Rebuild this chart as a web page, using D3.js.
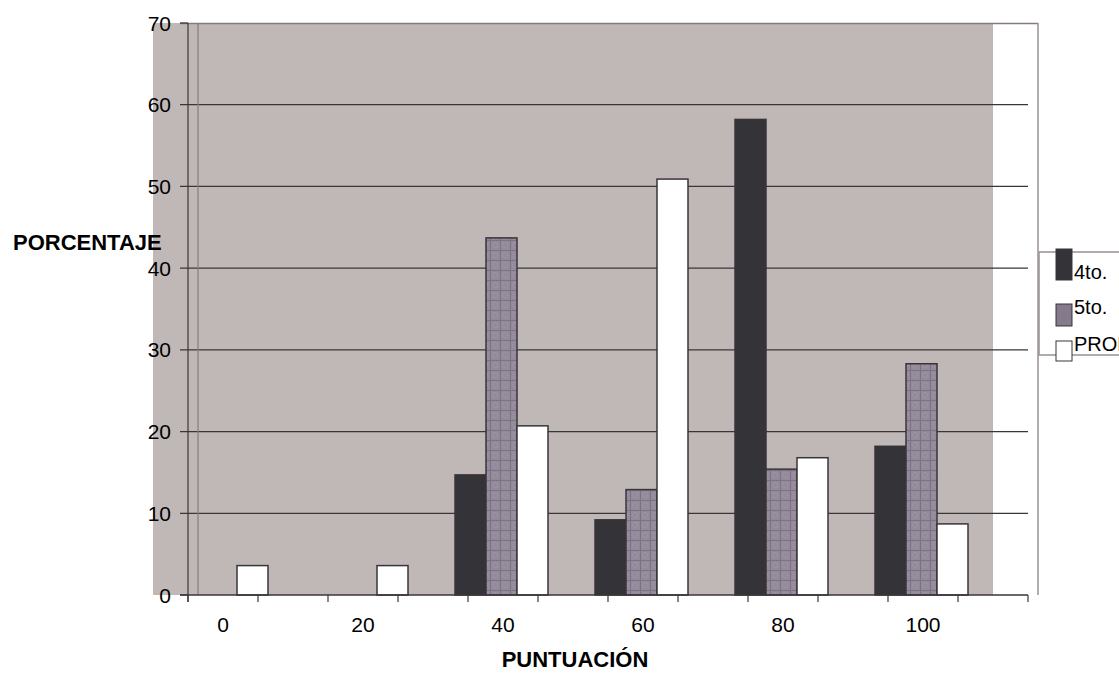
<!DOCTYPE html>
<html><head><meta charset="utf-8">
<script src="https://cdn.jsdelivr.net/npm/d3@7"></script>
<style>
html,body{margin:0;padding:0;background:#fff;}
svg{display:block;font-family:"Liberation Sans",Arial,sans-serif;}
</style></head>
<body><svg id="c" width="1119" height="675"></svg>
<script>
const categories = ["0","20","40","60","80","100"];
const seriesNames = ["4to.","5to.","PROMEDIO"];
const v4to = [0, 0, 14.7, 9.2, 58.2, 18.2];
const v5to = [0, 0, 43.7, 12.9, 15.4, 28.3];
const vProm = [3.6, 3.6, 20.7, 50.9, 16.8, 8.7];
const yTicks = [0,10,20,30,40,50,60,70];

const svg = d3.select("#c");
const defs = svg.append("defs");
const pat = defs.append("pattern").attr("id","pat").attr("patternUnits","userSpaceOnUse")
  .attr("width",10).attr("height",10);
pat.append("rect").attr("width",10).attr("height",10).attr("fill","#938a9a");
pat.append("circle").attr("cx",5).attr("cy",5).attr("r",2.6).attr("fill","none").attr("stroke","#a69dab").attr("stroke-width",1).attr("stroke-dasharray","1,1");
pat.append("path").attr("d","M0,0.5H10M0.5,0V10").attr("stroke","#7d7285").attr("stroke-width",1);

const plotTop = 23, plotBottom = 595;
const bgLeft = 153;
const x = d3.scaleBand().domain(categories).range([bgLeft, bgLeft + 140*categories.length]);
const bw = x.bandwidth();
const y = d3.scaleLinear().domain([0,70]).range([plotBottom, plotTop]);
const axisX = x(categories[0]) + bw/4;
const gridRight = x(categories[categories.length-1]) + bw + bw/4;
const frameRight = gridRight + 10;

// background
svg.append("rect").attr("x",bgLeft).attr("y",plotTop).attr("width",x.range()[1]-bgLeft)
  .attr("height",plotBottom-plotTop).attr("fill","#c0b8b6");

// gridlines
svg.append("g").selectAll("line").data(yTicks.filter(d=>d>0 && d<70)).join("line")
  .attr("x1",axisX-8).attr("x2",gridRight).attr("y1",d=>y(d)).attr("y2",d=>y(d))
  .attr("stroke","#3a3638").attr("stroke-width",1.2);

// frame lines
svg.append("line").attr("x1",axisX-8).attr("x2",frameRight).attr("y1",plotTop+0.5).attr("y2",plotTop+0.5)
  .attr("stroke","#857b7b").attr("stroke-width",1.5);
svg.append("line").attr("x1",frameRight).attr("x2",frameRight).attr("y1",plotTop).attr("y2",plotBottom)
  .attr("stroke","#9a9090").attr("stroke-width",1.5);
svg.append("line").attr("x1",axisX+10).attr("x2",axisX+10).attr("y1",plotTop).attr("y2",plotBottom)
  .attr("stroke","#857b7b").attr("stroke-width",1.2);

// bars
const x1 = d3.scaleBand().domain(seriesNames).range([22, 115]);
const fills = ["#343338","url(#pat)","#ffffff"];
const data = categories.map((c,i)=>({c, vals:[v4to[i], v5to[i], vProm[i]]}));
const g = svg.append("g");
data.forEach(d=>{
  d.vals.forEach((v,j)=>{
    if(v<=0) return;
    g.append("rect").attr("x",x(d.c)+x1(seriesNames[j])).attr("y",y(v))
      .attr("width",x1.bandwidth()).attr("height",y(0)-y(v))
      .attr("fill",fills[j]).attr("stroke","#38353a").attr("stroke-width",1.5);
  });
});

// y axis
svg.append("line").attr("x1",axisX).attr("x2",axisX).attr("y1",plotTop).attr("y2",plotBottom+7)
  .attr("stroke","#3a3638").attr("stroke-width",1.2);
svg.append("line").attr("x1",axisX-8).attr("x2",axisX).attr("y1",y(0)).attr("y2",y(0)).attr("stroke","#3a3638").attr("stroke-width",1.2);
svg.append("line").attr("x1",axisX-8).attr("x2",axisX).attr("y1",y(70)).attr("y2",y(70)).attr("stroke","#3a3638").attr("stroke-width",1.2);
svg.append("g").selectAll("text").data(yTicks).join("text")
  .attr("x",axisX-17).attr("y",d=>y(d)).attr("dy","0.36em").attr("text-anchor","end")
  .attr("font-size",21).attr("fill","#000").text(d=>d);

// x axis
svg.append("line").attr("x1",axisX-8).attr("x2",gridRight).attr("y1",plotBottom).attr("y2",plotBottom)
  .attr("stroke","#3a3638").attr("stroke-width",1.5);
const xTickPos = [];
categories.forEach(c=>{ xTickPos.push(x(c)+bw/4, x(c)+3*bw/4); });
xTickPos.push(gridRight);
svg.append("g").selectAll("line").data(xTickPos).join("line")
  .attr("x1",d=>d).attr("x2",d=>d).attr("y1",plotBottom).attr("y2",plotBottom+7)
  .attr("stroke","#3a3638").attr("stroke-width",1.2);
svg.append("g").selectAll("text").data(categories).join("text")
  .attr("x",d=>x(d)+bw/2).attr("y",632).attr("text-anchor","middle")
  .attr("font-size",21).attr("fill","#000").text(d=>d);

// axis titles
svg.append("text").attr("x",13).attr("y",250).attr("font-size",22).attr("font-weight","bold").text("PORCENTAJE");
svg.append("text").attr("x",575).attr("y",667).attr("text-anchor","middle").attr("font-size",22).attr("font-weight","bold").text("PUNTUACIÓN");

// legend
const lg = svg.append("g");
lg.append("rect").attr("x",frameRight+1).attr("y",252).attr("width",120).attr("height",103)
  .attr("fill","#fff").attr("stroke","#9a9090").attr("stroke-width",1.5);
const legItems = [
  {name:seriesNames[0], fill:"#343338", y0:249, h:31, ty:279},
  {name:seriesNames[1], fill:"#847a8c", y0:304, h:22, ty:314},
  {name:seriesNames[2], fill:"#ffffff", y0:341, h:20, ty:351}
];
legItems.forEach(it=>{
  lg.append("rect").attr("x",1056).attr("y",it.y0).attr("width",16).attr("height",it.h)
    .attr("fill",it.fill).attr("stroke","#38353a").attr("stroke-width",1);
  lg.append("text").attr("x",1074).attr("y",it.ty).attr("font-size",20).text(it.name);
});
</script></body></html>
